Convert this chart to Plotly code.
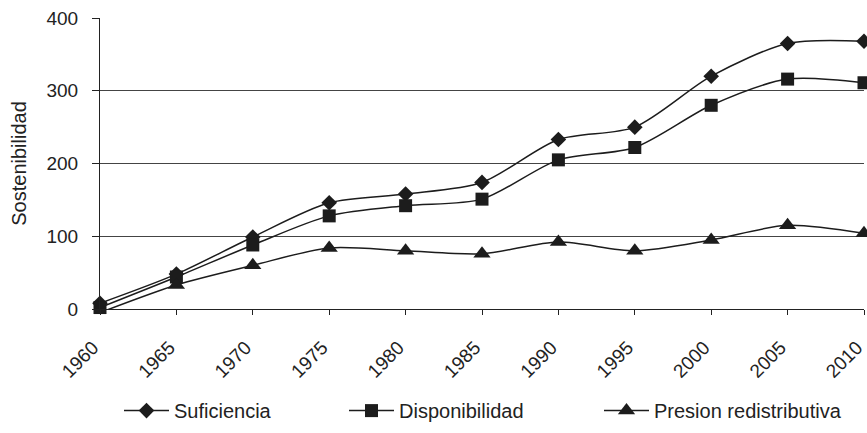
import plotly.graph_objects as go

years = [1960, 1965, 1970, 1975, 1980, 1985, 1990, 1995, 2000, 2005, 2010]
suficiencia = [8, 48, 99, 146, 158, 174, 233, 250, 320, 365, 368]
disponibilidad = [2, 44, 88, 128, 142, 151, 205, 222, 280, 316, 311]
presion = [-5, 33, 60, 84, 80, 76, 92, 80, 95, 115, 104]

names = ["Suficiencia", "Disponibilidad", "Presion redistributiva"]
symbols = ["diamond", "square", "triangle-up"]
sizes = [12, 13, 15]
series = [suficiencia, disponibilidad, presion]
legends = ["legend", "legend2", "legend3"]

col = "#1c1c1c"
fig = go.Figure()
for n, s, sz, v, lg in zip(names, symbols, sizes, series, legends):
    fig.add_trace(go.Scatter(
        x=years, y=v, name=n, mode="lines+markers",
        line=dict(color=col, width=1.5, shape="spline", smoothing=0.8),
        marker=dict(symbol=s, size=sz, color=col),
        cliponaxis=False, legend=lg,
    ))

L, R, T, B = 100, 3, 18, 120
W, H = 867, 433
pw = W - L - R
ph = H - T - B


def lx(px):
    return (px - L) / pw


def ly(py):
    return (H - B - py) / ph


leg_common = dict(orientation="h", xanchor="left", yanchor="middle", itemwidth=45,
                  font=dict(size=20, color="#222"), bgcolor="rgba(0,0,0,0)")

fig.update_layout(
    width=W, height=H,
    margin=dict(l=L, r=R, t=T, b=B),
    paper_bgcolor="white", plot_bgcolor="white",
    font=dict(family="Liberation Sans, Arial, sans-serif", size=19, color="#222"),
    showlegend=True,
    legend=dict(x=lx(119), y=ly(416), **leg_common),
    legend2=dict(x=lx(344), y=ly(416), **leg_common),
    legend3=dict(x=lx(599), y=ly(416), **leg_common),
    xaxis=dict(range=[1960, 2010], tickvals=years, ticktext=[str(y) for y in years],
               tickangle=-45, ticks="outside", ticklen=5, tickcolor="#222",
               ticklabelstandoff=14, ticklabelshift=-7, ticklabeloverflow="allow",
               showgrid=False, zeroline=False, showline=True, linecolor="#222",
               linewidth=1.2, tickfont=dict(size=19), automargin=False),
    yaxis=dict(range=[0, 400], tickvals=[0, 100, 200, 300, 400],
               ticks="outside", ticklen=7, tickcolor="#222",
               ticklabelstandoff=10,
               showgrid=True, gridcolor="#444", gridwidth=1,
               showline=True, linecolor="#222", linewidth=1.2,
               zeroline=False, automargin=False,
               title=dict(text="Sostenibilidad", standoff=14, font=dict(size=20)),
               tickfont=dict(size=19)),
)
fig.write_html("out.html", config={"displayModeBar": False},
               post_script="document.body.style.margin='0px';")
